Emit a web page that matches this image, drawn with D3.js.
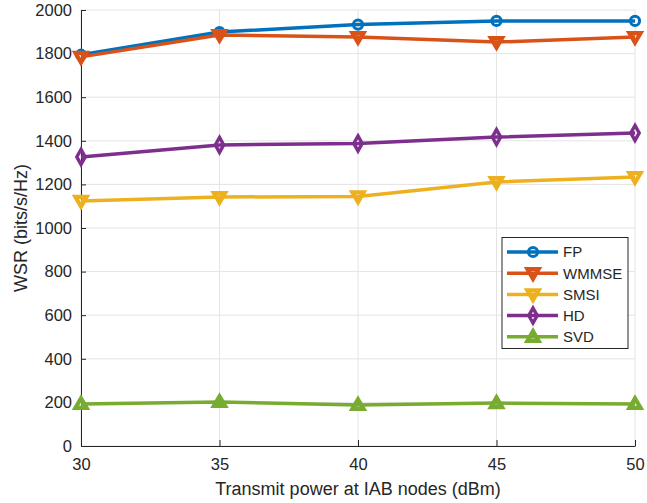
<!DOCTYPE html>
<html><head><meta charset="utf-8">
<script src="https://cdn.jsdelivr.net/npm/d3@7"></script>
<style>body{margin:0;background:#fff}svg{display:block;font-family:"Liberation Sans",Arial,sans-serif}</style>
</head><body>
<script>
const xValues = [30, 35, 40, 45, 50];
const seriesNames = ["FP", "WMMSE", "SMSI", "HD", "SVD"];
const fpValues = [1795, 1899, 1933, 1950, 1950];
const wmmseValues = [1785, 1885, 1876, 1853, 1876];
const smsiValues = [1124, 1142, 1145, 1211, 1234];
const hdValues = [1326, 1381, 1388, 1417, 1436];
const svdValues = [193, 202, 188, 197, 193];
const xTicks = [30, 35, 40, 45, 50];
const yTicks = [0, 200, 400, 600, 800, 1000, 1200, 1400, 1600, 1800, 2000];
const colors = ["#0072BD", "#D95319", "#EDB120", "#7E2F8E", "#77AC30"];
const markers = ["circle", "tridown", "tridown", "diamond", "triup"];

const series = seriesNames.map((n, i) => ({name: n, values: [fpValues, wmmseValues, smsiValues, hdValues, svdValues][i], color: colors[i], marker: markers[i]}));

const W = 647, H = 503;
const m = {left: 81, right: 12, top: 10, bottom: 57};
const svg = d3.select("body").append("svg").attr("width", W).attr("height", H);
const x = d3.scaleLinear().domain([30, 50]).range([m.left, W - m.right]);
const y = d3.scaleLinear().domain([0, 2000]).range([H - m.bottom, m.top]);

// grid
const g = svg.append("g");
g.selectAll(".gx").data(xTicks).enter().append("line")
  .attr("x1", d => x(d)).attr("x2", d => x(d)).attr("y1", y(0)).attr("y2", y(2000))
  .attr("stroke", "#e4e4e4").attr("stroke-width", 1);
g.selectAll(".gy").data(yTicks).enter().append("line")
  .attr("y1", d => y(d)).attr("y2", d => y(d)).attr("x1", x(30)).attr("x2", x(50))
  .attr("stroke", "#e4e4e4").attr("stroke-width", 1);

// axes
const axCol = "#262626";
const fmt = d3.format("d");
const xAxis = svg.append("g").attr("transform", `translate(0,${y(0)})`)
  .call(d3.axisBottom(x).tickValues(xTicks).tickFormat(fmt).tickSizeInner(-6).tickSizeOuter(0).tickPadding(12));
const yAxis = svg.append("g").attr("transform", `translate(${x(30)},0)`)
  .call(d3.axisLeft(y).tickValues(yTicks).tickFormat(fmt).tickSizeInner(-5).tickSizeOuter(0).tickPadding(9));
[xAxis, yAxis].forEach(a => {
  a.select(".domain").attr("stroke", axCol).attr("stroke-width", 1);
  a.selectAll(".tick line").attr("stroke", axCol);
  a.selectAll(".tick text").attr("fill", axCol).style("font-size", "16.5px").style("font-family", "Liberation Sans, Arial, sans-serif");
});
xAxis.selectAll(".tick text").attr("dy", "0.71em");

svg.append("text").attr("x", (x(30) + x(50)) / 2).attr("y", 495)
  .attr("text-anchor", "middle").attr("fill", axCol).style("font-size", "18px")
  .text("Transmit power at IAB nodes (dBm)");
svg.append("text").attr("transform", `translate(27,${(y(0) + y(2000)) / 2}) rotate(-90)`)
  .attr("text-anchor", "middle").attr("fill", axCol).style("font-size", "18px")
  .text("WSR (bits/s/Hz)");

function markerPath(type) {
  if (type === "tridown") return `M-5.6,-4L5.6,-4L0,5.6Z`;
  if (type === "triup") return `M-5.6,4L5.6,4L0,-5.6Z`;
  if (type === "diamond") return `M0,-7.5L4.2,0L0,7.5L-4.2,0Z`;
}
function drawMarker(sel, type, color) {
  if (type === "circle") {
    sel.append("circle").attr("r", 4.6).attr("fill", "none").attr("stroke", color).attr("stroke-width", 3);
  } else {
    sel.append("path").attr("d", markerPath(type)).attr("fill", "none").attr("stroke", color)
      .attr("stroke-width", type === "diamond" ? 3.4 : 4.2).attr("stroke-linejoin", "miter");
  }
}

const line = d3.line().x((d, i) => x(xValues[i])).y(d => y(d));
series.forEach(s => {
  const gg = svg.append("g");
  gg.append("path").datum(s.values).attr("d", line).attr("fill", "none")
    .attr("stroke", s.color).attr("stroke-width", 3.5);
  s.values.forEach((v, i) => {
    const mg = gg.append("g").attr("transform", `translate(${x(xValues[i])},${y(v)})`);
    drawMarker(mg, s.marker, s.color);
  });
});

// legend
const lg = svg.append("g").attr("transform", "translate(502,237.5)");
lg.append("rect").attr("width", 126).attr("height", 111).attr("fill", "#fff").attr("stroke", axCol).attr("stroke-width", 1);
series.forEach((s, i) => {
  const yy = 14.5 + i * 21.2;
  lg.append("line").attr("x1", 5).attr("x2", 56).attr("y1", yy).attr("y2", yy).attr("stroke", s.color).attr("stroke-width", 3.5);
  const mg = lg.append("g").attr("transform", `translate(31,${yy})`);
  drawMarker(mg, s.marker, s.color);
  lg.append("text").attr("x", 61).attr("y", yy).attr("dy", "0.36em").attr("fill", axCol)
    .style("font-size", "15px").text(s.name);
});
</script>
</body></html>
